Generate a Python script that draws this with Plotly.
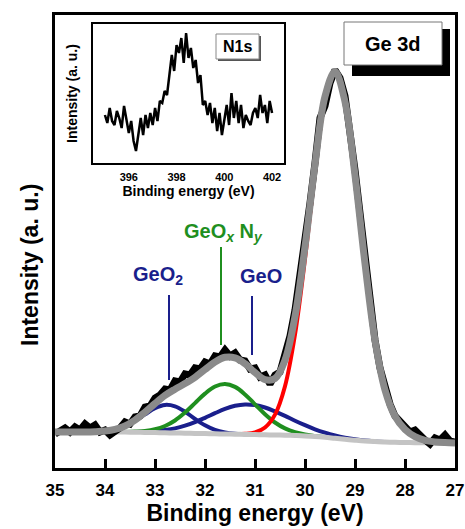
import plotly.graph_objects as go

# ---------------- main Ge 3d spectrum ----------------
be_data = [35.0, 34.9, 34.8, 34.7, 34.6, 34.5, 34.4, 34.3, 34.2, 34.1, 34.0, 33.9, 33.8, 33.7, 33.6,
           33.5, 33.4, 33.3, 33.2, 33.1, 33.0, 32.9, 32.8, 32.7, 32.6, 32.5, 32.4, 32.3, 32.2, 32.1,
           32.0, 31.9, 31.8, 31.7, 31.6, 31.5, 31.4, 31.3, 31.2, 31.1, 31.0, 30.9, 30.8, 30.7, 30.6,
           30.5, 30.4, 30.3, 30.2, 30.1, 30.0, 29.9, 29.8, 29.7, 29.6, 29.5, 29.4, 29.3, 29.2, 29.1,
           29.0, 28.9, 28.8, 28.7, 28.6, 28.5, 28.4, 28.3, 28.2, 28.1, 28.0, 27.9, 27.8, 27.7, 27.6,
           27.5, 27.4, 27.3, 27.2, 27.1, 27.0]
int_data = [34, 37, 40, 36, 41, 38, 44, 40, 43, 36, 38, 33, 36, 40, 46,
            44, 51, 52, 61, 62, 70, 73, 79, 78, 87, 86, 94, 93, 100, 99,
            106, 104, 112, 111, 118, 112, 115, 108, 107, 99, 100, 91, 93, 84, 93,
            96, 114, 132, 158, 190, 228, 265, 305, 350, 362, 385, 398, 390, 372, 340,
            298, 255, 210, 165, 128, 100, 80, 64, 52, 46, 42, 36, 38, 32, 28,
            24, 30, 28, 33, 27, 26]

be_fit = [35.0, 34.8, 34.6, 34.4, 34.2, 34.0, 33.8, 33.6, 33.4, 33.2, 33.0, 32.8, 32.6, 32.4, 32.2,
          32.0, 31.8, 31.6, 31.4, 31.2, 31.0, 30.8, 30.6, 30.4, 30.2, 30.0, 29.8, 29.6, 29.4, 29.2,
          29.0, 28.8, 28.6, 28.4, 28.2, 28.0, 27.8, 27.6, 27.4, 27.2, 27.0]
background = [36.0, 36.0, 36.0, 36.0, 36.0, 36.0, 36.0, 35.9, 35.8, 35.6, 35.4, 35.2, 35.0, 34.8, 34.6,
              34.4, 34.2, 34.0, 33.8, 33.6, 33.4, 33.2, 33.0, 32.8, 32.5, 32.1, 31.5, 30.7, 29.7, 28.7,
              27.8, 27.0, 26.4, 26.0, 25.7, 25.5, 25.3, 25.2, 25.1, 25.0, 25.0]
envelope = [36.0, 36.0, 36.0, 36.0, 36.3, 37.0, 38.6, 42.0, 47.9, 55.8, 64.5, 72.6, 78.8, 84.4, 90.7,
            98.5, 106.0, 110.7, 110.2, 104.3, 95.4, 88.4, 89.5, 107.9, 151.6, 221.2, 303.3, 371.5, 396.5, 366.3,
            292.7, 204.4, 127.6, 78.0, 51.7, 38.5, 31.3, 27.7, 26.1, 25.4, 25.1]

be_geo2 = [34.4, 34.2, 34.0, 33.8, 33.6, 33.4, 33.2, 33.0, 32.8, 32.6, 32.4, 32.2, 32.0, 31.8, 31.6,
           31.4, 31.2, 31.0]
geo2 = [36.0, 36.2, 36.9, 38.5, 41.7, 47.0, 53.6, 59.8, 63.1, 61.7, 56.3, 49.1, 42.7, 38.1, 35.6,
        34.3, 33.8, 33.4]

be_geoxny = [33.6, 33.4, 33.2, 33.0, 32.8, 32.6, 32.4, 32.2, 32.0, 31.8, 31.6, 31.4, 31.2, 31.0, 30.8,
             30.6, 30.4, 30.2, 30.0, 29.8, 29.6]
geoxny = [36.1, 36.4, 37.0, 38.7, 42.0, 47.5, 55.4, 64.9, 74.4, 81.5, 84.0, 81.1, 73.6, 63.7, 53.8,
          45.5, 39.6, 35.8, 33.5, 32.1, 30.9]

be_geo = [33.4, 33.2, 33.0, 32.8, 32.6, 32.4, 32.2, 32.0, 31.8, 31.6, 31.4, 31.2, 31.0, 30.8, 30.6,
          30.4, 30.2, 30.0, 29.8, 29.6, 29.4, 29.2, 29.0, 28.8, 28.6, 28.4]
geo = [36.1, 36.3, 36.8, 37.9, 39.6, 42.3, 45.9, 50.2, 54.8, 59.1, 62.2, 63.6, 62.9, 60.5, 56.6,
       52.1, 47.3, 42.8, 38.7, 35.3, 32.5, 30.3, 28.65, 27.4, 26.6, 26.0]

be_ge = [31.6, 31.4, 31.2, 31.0, 30.8, 30.6, 30.4, 30.2, 30.0, 29.8, 29.6, 29.4, 29.2, 29.0, 28.8,
         28.6, 28.4, 28.2, 28.0, 27.8, 27.6, 27.4, 27.2, 27.0]
ge = [34.0, 33.9, 34.2, 35.6, 40.5, 53.4, 81.8, 133.5, 209.1, 295.5, 366.7, 393.7, 364.7, 291.8, 204.0,
      127.4, 78.0, 51.7, 38.5, 31.3, 27.7, 26.1, 25.4, 25.1]

main_ticks = [35, 34, 33, 32, 31, 30, 29, 28, 27]

# peak-assignment markers: (line x, line bottom, line top)
geo2_line = [32.72, 88, 173]
geoxny_line = [31.68, 123, 221]
geo_line = [31.06, 113, 172]

# ---------------- inset N1s spectrum ----------------
be_n1s = [395.0, 395.1, 395.2, 395.3, 395.4, 395.5, 395.6, 395.7, 395.8, 395.9, 396.0, 396.1, 396.2, 396.3,
          396.4, 396.5, 396.6, 396.7, 396.8, 396.9, 397.0, 397.1, 397.2, 397.3, 397.4, 397.5, 397.6, 397.7,
          397.8, 397.9, 398.0, 398.1, 398.2, 398.3, 398.4, 398.5, 398.6, 398.7, 398.8, 398.9, 399.0, 399.1,
          399.2, 399.3, 399.4, 399.5, 399.6, 399.7, 399.8, 399.9, 400.0, 400.1, 400.2, 400.3, 400.4, 400.5,
          400.6, 400.7, 400.8, 400.9, 401.0, 401.1, 401.2, 401.3, 401.4, 401.5, 401.6, 401.7, 401.8, 401.9,
          402.0]
int_n1s = [48, 40, 55, 42, 38, 52, 45, 35, 57, 44, 30, 42, 22, 12,
           30, 45, 28, 48, 35, 50, 38, 55, 42, 62, 60, 72, 68, 90,
           108, 92, 118, 110, 125, 100, 130, 105, 115, 95, 103, 80, 88, 58,
           62, 48, 60, 40, 55, 32, 50, 28, 45, 58, 38, 70, 45, 62,
           40, 58, 35, 48, 42, 38, 50, 55, 45, 68, 50, 58, 40, 62,
           50]
inset_ticks = [396, 398, 400, 402]

NAVY = "#1a1f8c"
GREEN = "#1f8f1f"
FONT = "Arial, Liberation Sans, sans-serif"


def px(x):
    return (x - 55) / 400


def py(y):
    return (468 - y) / 453


fig = go.Figure()

fig.add_trace(go.Scatter(x=be_geo2, y=geo2, mode="lines",
                         line=dict(color=NAVY, width=4, shape="spline"), showlegend=False))
fig.add_trace(go.Scatter(x=be_geo, y=geo, mode="lines",
                         line=dict(color=NAVY, width=4, shape="spline"), showlegend=False))
fig.add_trace(go.Scatter(x=be_geoxny, y=geoxny, mode="lines",
                         line=dict(color=GREEN, width=4, shape="spline"), showlegend=False))
fig.add_trace(go.Scatter(x=be_ge, y=ge, mode="lines",
                         line=dict(color="#ff0000", width=4, shape="spline"), showlegend=False))
fig.add_trace(go.Scatter(x=be_fit, y=background, mode="lines",
                         line=dict(color="#c4c4c4", width=5, shape="spline"), showlegend=False))
fig.add_trace(go.Scatter(x=be_data, y=int_data, mode="lines",
                         line=dict(color="black", width=7), showlegend=False))
fig.add_trace(go.Scatter(x=be_fit, y=envelope, mode="lines",
                         line=dict(color="#8a8a8a", width=7, shape="spline"), showlegend=False))

fig.add_trace(go.Scatter(x=be_n1s, y=int_n1s, mode="lines", xaxis="x2", yaxis="y2",
                         line=dict(color="black", width=2.5), showlegend=False))

# marker lines
for (lx, y0, y1), col in [(geo2_line, NAVY), (geoxny_line, GREEN), (geo_line, NAVY)]:
    fig.add_shape(type="line", xref="x", yref="y", x0=lx, x1=lx, y0=y0, y1=y1,
                  line=dict(color=col, width=2))

fig.add_annotation(x=32.95, y=193, xref="x", yref="y", text="GeO<sub>2</sub>", showarrow=False,
                   xanchor="center", yanchor="middle",
                   font=dict(family=FONT, size=20, color=NAVY, weight="bold"))
fig.add_annotation(x=31.64, y=236, xref="x", yref="y",
                   text="GeO<sub><i>x</i></sub> N<sub><i>y</i></sub>", showarrow=False,
                   xanchor="center", yanchor="middle",
                   font=dict(family=FONT, size=20, color=GREEN, weight="bold"))
fig.add_annotation(x=30.88, y=192, xref="x", yref="y", text="GeO", showarrow=False,
                   xanchor="center", yanchor="middle",
                   font=dict(family=FONT, size=20, color=NAVY, weight="bold"))

# main y-axis title
fig.add_annotation(x=px(30), y=py(265), xref="paper", yref="paper", text="Intensity (a. u.)",
                   textangle=-90, showarrow=False, xanchor="center", yanchor="middle",
                   font=dict(family=FONT, size=23, color="black", weight="bold"))

# Ge 3d label box with shadow
fig.add_shape(type="rect", xref="paper", yref="paper",
              x0=px(352), x1=px(450), y0=py(76), y1=py(29),
              fillcolor="black", line=dict(width=0))
fig.add_shape(type="rect", xref="paper", yref="paper",
              x0=px(344), x1=px(442), y0=py(65), y1=py(22),
              fillcolor="white", line=dict(color="#777777", width=1))
fig.add_annotation(x=px(393), y=py(44), xref="paper", yref="paper",
                   text="Ge 3d", showarrow=False, xanchor="center", yanchor="middle",
                   font=dict(family=FONT, size=20, color="black", weight="bold"))

# N1s label box with small shadow
fig.add_shape(type="rect", xref="paper", yref="paper",
              x0=px(218), x1=px(261), y0=py(61), y1=py(36),
              fillcolor="#555555", line=dict(width=0))
fig.add_shape(type="rect", xref="paper", yref="paper",
              x0=px(216), x1=px(259), y0=py(59), y1=py(34),
              fillcolor="white", line=dict(color="#888888", width=1))
fig.add_annotation(x=px(237.5), y=py(46.5), xref="paper", yref="paper",
                   text="N1s", showarrow=False, xanchor="center", yanchor="middle",
                   font=dict(family=FONT, size=16, color="black", weight="bold"))

fig.update_layout(
    width=465, height=529,
    margin=dict(l=55, r=10, t=15, b=61),
    paper_bgcolor="white", plot_bgcolor="white",
    font=dict(family=FONT, color="black"),
    xaxis=dict(range=[35, 27], tickvals=main_ticks, ticktext=[str(t) for t in main_ticks],
               ticks="inside", ticklen=9, tickwidth=3, tickcolor="black",
               showline=True, linewidth=3, linecolor="black", mirror=True,
               showgrid=False, zeroline=False, ticklabelstandoff=5, automargin=False,
               tickfont=dict(family=FONT, size=17, weight="bold"),
               title=dict(text="Binding energy (eV)", standoff=6,
                          font=dict(family=FONT, size=23, weight="bold"))),
    yaxis=dict(range=[0, 453], showticklabels=False, ticks="",
               showline=True, linewidth=3, linecolor="black", mirror=True,
               showgrid=False, zeroline=False, automargin=False),
    xaxis2=dict(domain=[px(93), px(284)], anchor="y2",
                range=[394.5, 402.5], tickvals=inset_ticks, ticks="",
                showline=True, linewidth=2, linecolor="black", mirror=True,
                showgrid=False, zeroline=False, ticklabelstandoff=3, automargin=False,
                tickfont=dict(family=FONT, size=11, weight="bold"),
                title=dict(text="Binding energy (eV)", standoff=3,
                           font=dict(family=FONT, size=14, weight="bold"))),
    yaxis2=dict(domain=[py(163), py(24)], anchor="x2",
                range=[0, 139], showticklabels=False, ticks="",
                showline=True, linewidth=2, linecolor="black", mirror=True,
                showgrid=False, zeroline=False, automargin=False,
                title=dict(text="Intensity (a. u.)", standoff=10,
                           font=dict(family=FONT, size=14, weight="bold"))),
)

fig.write_html("out.html")
